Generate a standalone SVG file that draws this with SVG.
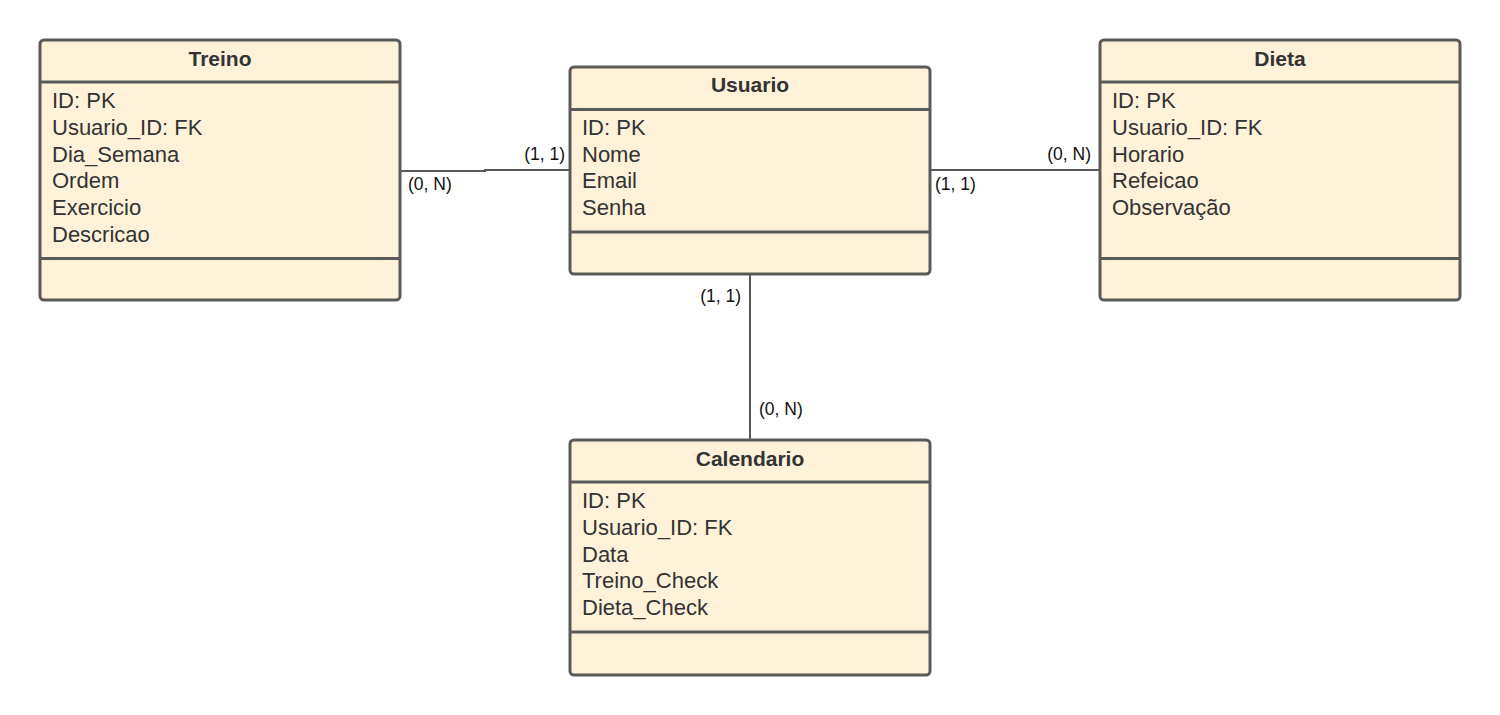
<svg xmlns="http://www.w3.org/2000/svg" width="1500" height="715" viewBox="0 0 1500 715">
<style>
.box{fill:#fff2d9;stroke:#5a5a5a;stroke-width:3}
.div{stroke:#5a5a5a;stroke-width:3}
.title{font-family:"Liberation Sans",Arial,sans-serif;font-size:21px;font-weight:bold;fill:#333;text-anchor:middle}
.attr{font-family:"Liberation Sans",Arial,sans-serif;font-size:22px;fill:#333}
.conn{fill:none;stroke:#595959;stroke-width:2}
.lbl{font-family:"Liberation Sans",Arial,sans-serif;font-size:17.5px;fill:#111}
.end{text-anchor:end}
</style>
<rect width="1500" height="715" fill="#ffffff"/>
<g id="connectors">
<path class="conn" d="M400 171 H485 V170 H570"/>
<path class="conn" d="M930 170 H1100"/>
<path class="conn" d="M750 274 V440"/>
<text class="lbl end" x="565" y="160">(1, 1)</text>
<text class="lbl" x="408" y="190">(0, N)</text>
<text class="lbl end" x="1091" y="160">(0, N)</text>
<text class="lbl" x="935" y="190">(1, 1)</text>
<text class="lbl end" x="741" y="302">(1, 1)</text>
<text class="lbl" x="759" y="415">(0, N)</text>
</g>
<g id="treino">
<rect class="box" x="40" y="40" width="360" height="260" rx="4"/>
<line class="div" x1="40" y1="82" x2="400" y2="82"/>
<line class="div" x1="40" y1="258.5" x2="400" y2="258.5"/>
<text class="title" x="220" y="65.5">Treino</text>
<text class="attr" x="52" y="108.3">ID: PK</text>
<text class="attr" x="52" y="135">Usuario_ID: FK</text>
<text class="attr" x="52" y="161.7">Dia_Semana</text>
<text class="attr" x="52" y="188.4">Ordem</text>
<text class="attr" x="52" y="215.1">Exercicio</text>
<text class="attr" x="52" y="241.8">Descricao</text>
</g>
<g id="usuario">
<rect class="box" x="570" y="67" width="360" height="207" rx="4"/>
<line class="div" x1="570" y1="109.5" x2="930" y2="109.5"/>
<line class="div" x1="570" y1="232" x2="930" y2="232"/>
<text class="title" x="750" y="92.3">Usuario</text>
<text class="attr" x="582" y="135">ID: PK</text>
<text class="attr" x="582" y="161.7">Nome</text>
<text class="attr" x="582" y="188.4">Email</text>
<text class="attr" x="582" y="215.1">Senha</text>
</g>
<g id="dieta">
<rect class="box" x="1100" y="40" width="360" height="260" rx="4"/>
<line class="div" x1="1100" y1="82" x2="1460" y2="82"/>
<line class="div" x1="1100" y1="258.5" x2="1460" y2="258.5"/>
<text class="title" x="1280" y="65.5">Dieta</text>
<text class="attr" x="1112" y="108.3">ID: PK</text>
<text class="attr" x="1112" y="135">Usuario_ID: FK</text>
<text class="attr" x="1112" y="161.7">Horario</text>
<text class="attr" x="1112" y="188.4">Refeicao</text>
<text class="attr" x="1112" y="215.1">Observação</text>
</g>
<g id="calendario">
<rect class="box" x="570" y="440" width="360" height="235" rx="4"/>
<line class="div" x1="570" y1="482" x2="930" y2="482"/>
<line class="div" x1="570" y1="632" x2="930" y2="632"/>
<text class="title" x="750" y="465.5">Calendario</text>
<text class="attr" x="582" y="508.3">ID: PK</text>
<text class="attr" x="582" y="535">Usuario_ID: FK</text>
<text class="attr" x="582" y="561.7">Data</text>
<text class="attr" x="582" y="588.4">Treino_Check</text>
<text class="attr" x="582" y="615.1">Dieta_Check</text>
</g>
</svg>
